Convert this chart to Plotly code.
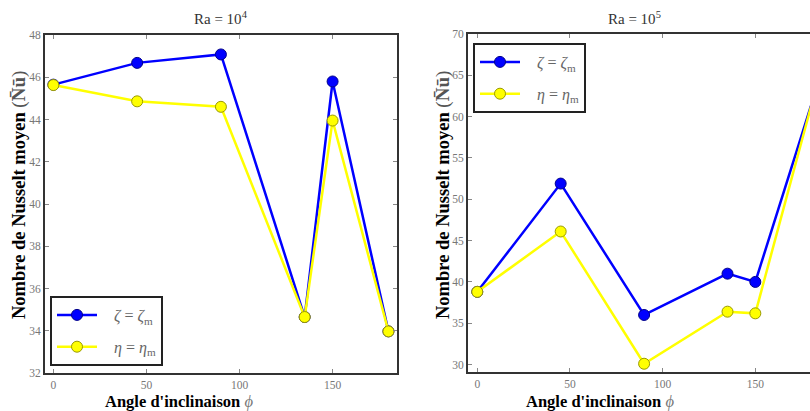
import plotly.graph_objects as go

angles = [0, 45, 90, 135, 150, 180]
ra4_zeta = [45.65, 46.68, 47.08, 34.65, 45.8, 33.97]
ra4_eta = [45.63, 44.86, 44.6, 34.65, 43.95, 33.97]
ra5_zeta = [38.8, 51.9, 36.0, 41.0, 40.0, 61.3]
ra5_eta = [38.8, 46.1, 30.1, 36.4, 36.2, 61.2]

x_ticks = [0, 50, 100, 150]
y4_ticks = [32, 34, 36, 38, 40, 42, 44, 46, 48]
y5_ticks = [30, 35, 40, 45, 50, 55, 60, 65, 70]

SERIF = "Liberation Serif"
BLUE = "#0000ff"
YEL = "#ffff00"
W, H = 810, 411

fig = go.Figure()

def add(x, y, xa, ya, color, edge, name, legend, group):
    fig.add_trace(go.Scatter(
        x=x, y=y, xaxis=xa, yaxis=ya, mode="lines+markers", name=name,
        line=dict(color=color, width=2.5),
        marker=dict(color=color, size=11, line=dict(color=edge, width=1)),
        legend=legend, legendgroup=group, showlegend=True, cliponaxis=False))

lab_z = "   <i>ζ</i> = <i>ζ</i><sub>m</sub>"
lab_e = "   <i>η</i> = <i>η</i><sub>m</sub>"

add(angles, ra4_zeta, "x", "y", BLUE, "#00008b", lab_z, "legend", "a")
add(angles, ra4_eta, "x", "y", YEL, "#9a9a00", lab_e, "legend", "b")
add(angles, ra5_zeta, "x2", "y2", BLUE, "#00008b", lab_z, "legend2", "c")
add(angles, ra5_eta, "x2", "y2", YEL, "#9a9a00", lab_e, "legend2", "d")

tickfont = dict(family=SERIF, size=11.5, color="#777777")

common_x = dict(tickvals=x_ticks, ticks="inside", ticklen=4, tickcolor="#888",
                showline=True, linecolor="#333", linewidth=2, showgrid=False,
                zeroline=False, tickfont=tickfont, automargin=False)
common_y = dict(ticks="inside", ticklen=4, tickcolor="#888",
                showline=True, linecolor="#333", linewidth=2, showgrid=False,
                zeroline=False, tickfont=tickfont, automargin=False)

legend_style = dict(xanchor="left", yanchor="top", bordercolor="#222", borderwidth=2,
                    bgcolor="white", itemwidth=40, tracegroupgap=8,
                    font=dict(family=SERIF, size=16, color="#666"))

xlab = "<b>Angle d'inclinaison</b> <i><span style='color:#777'>ϕ</span></i>"
ylab = ("<b>Nombre de Nusselt moyen</b> "
        "<span style='font-size:19px;color:#555'>(<b>N̄ū</b>)</span>")

def ann(text, x, y, size, angle=0, color="black"):
    return dict(text=text, x=x / W, y=(H - y) / H, xref="paper", yref="paper",
                xanchor="center", yanchor="middle", textangle=angle, showarrow=False,
                font=dict(family=SERIF, size=size, color=color))

fig.update_layout(
    width=W, height=H,
    margin=dict(l=0, r=0, t=0, b=0),
    paper_bgcolor="white", plot_bgcolor="white",
    xaxis=dict(domain=[45/W, 397/W], range=[-4.5, 184.6], mirror="ticks", anchor="y", **common_x),
    yaxis=dict(domain=[38/H, 376/H], range=[32, 48], tickvals=y4_ticks, mirror="ticks", anchor="x", **common_y),
    xaxis2=dict(domain=[468/W, 1.0], range=[-5, 179.5], mirror="ticks", anchor="y2", **common_x),
    yaxis2=dict(domain=[39/H, 377/H], range=[29.1, 70], tickvals=y5_ticks, anchor="x2", **common_y),
    legend=dict(x=50/W, y=(H-296)/H, **legend_style),
    legend2=dict(x=473/W, y=(H-43)/H, **legend_style),
    annotations=[
        ann("Ra = 10<sup>4</sup>", 221, 18, 15, color="#333"),
        ann("Ra = 10<sup>5</sup>", 634, 18, 15, color="#333"),
        ann(xlab, 179, 401, 16.5),
        ann(xlab, 600, 401, 16.5),
        ann(ylab, 19, 195, 18.5, angle=-90),
        ann(ylab, 443, 195, 18.5, angle=-90),
    ],
)

fig.write_html("out.html", config={"displayModeBar": False},
               post_script="document.body.style.margin='0';document.body.style.overflow='hidden';")
